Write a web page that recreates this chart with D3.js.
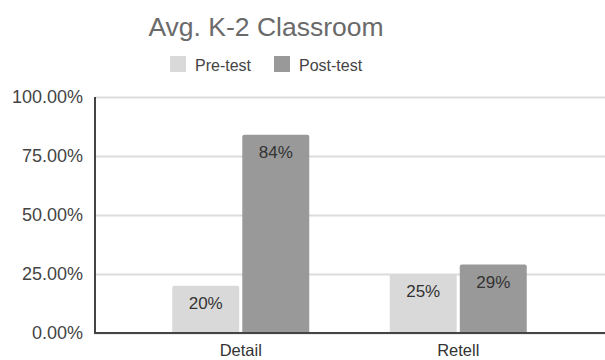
<!DOCTYPE html>
<html><head><meta charset="utf-8">
<script src="https://cdn.jsdelivr.net/npm/d3@7"></script>
<style>body{margin:0;background:#fff;}svg{display:block;font-family:"Liberation Sans",Arial,sans-serif;}</style>
</head><body>
<svg id="c" width="605" height="360"></svg>
<script>
const categories = ["Detail", "Retell"];
const series = ["Pre-test", "Post-test"];
const preValues = [0.20, 0.25];
const postValues = [0.84, 0.29];
const preLabels = ["20%", "25%"];
const postLabels = ["84%", "29%"];
const yTicks = [0, 0.25, 0.5, 0.75, 1.0];
const colors = ["#d9d9d9", "#999999"];

const svg = d3.select("#c");
const pLeft = 95, pRight = 605, pTop = 97, pBottom = 333;

const y = d3.scaleLinear().domain([0, 1]).range([pBottom, pTop]);
const x = d3.scaleBand().domain(categories).range([132, 567]).padding(0);
const xs = d3.scaleBand().domain(series).range([-68.5, 68.5]).paddingInner(0.044);

// title
svg.append("text").attr("x", 266).attr("y", 36).attr("text-anchor", "middle")
  .attr("font-size", 26.5).attr("fill", "#6a6a6a").text("Avg. K-2 Classroom");

// legend
const legX = [170, 274];
series.forEach((s, i) => {
  svg.append("rect").attr("x", legX[i]).attr("y", 56).attr("width", 16).attr("height", 16)
    .attr("fill", colors[i]);
  svg.append("text").attr("x", legX[i] + 25).attr("y", 70.5).attr("font-size", 16)
    .attr("fill", "#444").text(s);
});

// gridlines
const yAxis = d3.axisLeft(y).tickValues(yTicks).tickSize(-(pRight - pLeft))
  .tickFormat(d => d3.format(".2f")(d * 100) + "%").tickPadding(12);
const gy = svg.append("g").attr("transform", `translate(${pLeft},0)`).call(yAxis);
gy.select(".domain").remove();
gy.selectAll(".tick line").attr("stroke", "#dcdcdc").attr("stroke-width", 2);
gy.selectAll(".tick text").attr("font-size", 18).attr("fill", "#444")
  .attr("font-family", '"Liberation Sans",Arial,sans-serif');

// bars
const data = [];
categories.forEach((c, i) => {
  data.push({c, s: series[0], v: preValues[i], l: preLabels[i], col: colors[0]});
  data.push({c, s: series[1], v: postValues[i], l: postLabels[i], col: colors[1]});
});
const bw = xs.bandwidth();
svg.selectAll("path.bar").data(data).enter().append("path").attr("class", "bar")
  .attr("fill", d => d.col)
  .attr("d", d => {
    const x0 = x(d.c) + x.bandwidth() / 2 + xs(d.s);
    const y0 = y(d.v), r = 2;
    return `M${x0},${pBottom}V${y0 + r}Q${x0},${y0} ${x0 + r},${y0}H${x0 + bw - r}Q${x0 + bw},${y0} ${x0 + bw},${y0 + r}V${pBottom}Z`;
  });
svg.selectAll("text.lbl").data(data).enter().append("text").attr("class", "lbl")
  .attr("x", d => x(d.c) + x.bandwidth() / 2 + xs(d.s) + bw / 2)
  .attr("y", d => y(d.v) + 23).attr("text-anchor", "middle")
  .attr("font-size", 17).attr("fill", "#333").text(d => d.l);

// axes lines
svg.append("line").attr("x1", pLeft).attr("x2", pLeft).attr("y1", pTop).attr("y2", pBottom + 1)
  .attr("stroke", "#444").attr("stroke-width", 2);
svg.append("line").attr("x1", pLeft).attr("x2", pRight).attr("y1", pBottom).attr("y2", pBottom)
  .attr("stroke", "#444").attr("stroke-width", 2);

// x labels
const xAxis = d3.axisBottom(x).tickSize(0).tickPadding(0);
const gx = svg.append("g").attr("transform", `translate(0,${pBottom})`).call(xAxis);
gx.select(".domain").remove();
gx.selectAll(".tick text").attr("font-size", 16.5).attr("fill", "#333").attr("dy", null).attr("y", 23)
  .attr("font-family", '"Liberation Sans",Arial,sans-serif');
</script>
</body></html>
